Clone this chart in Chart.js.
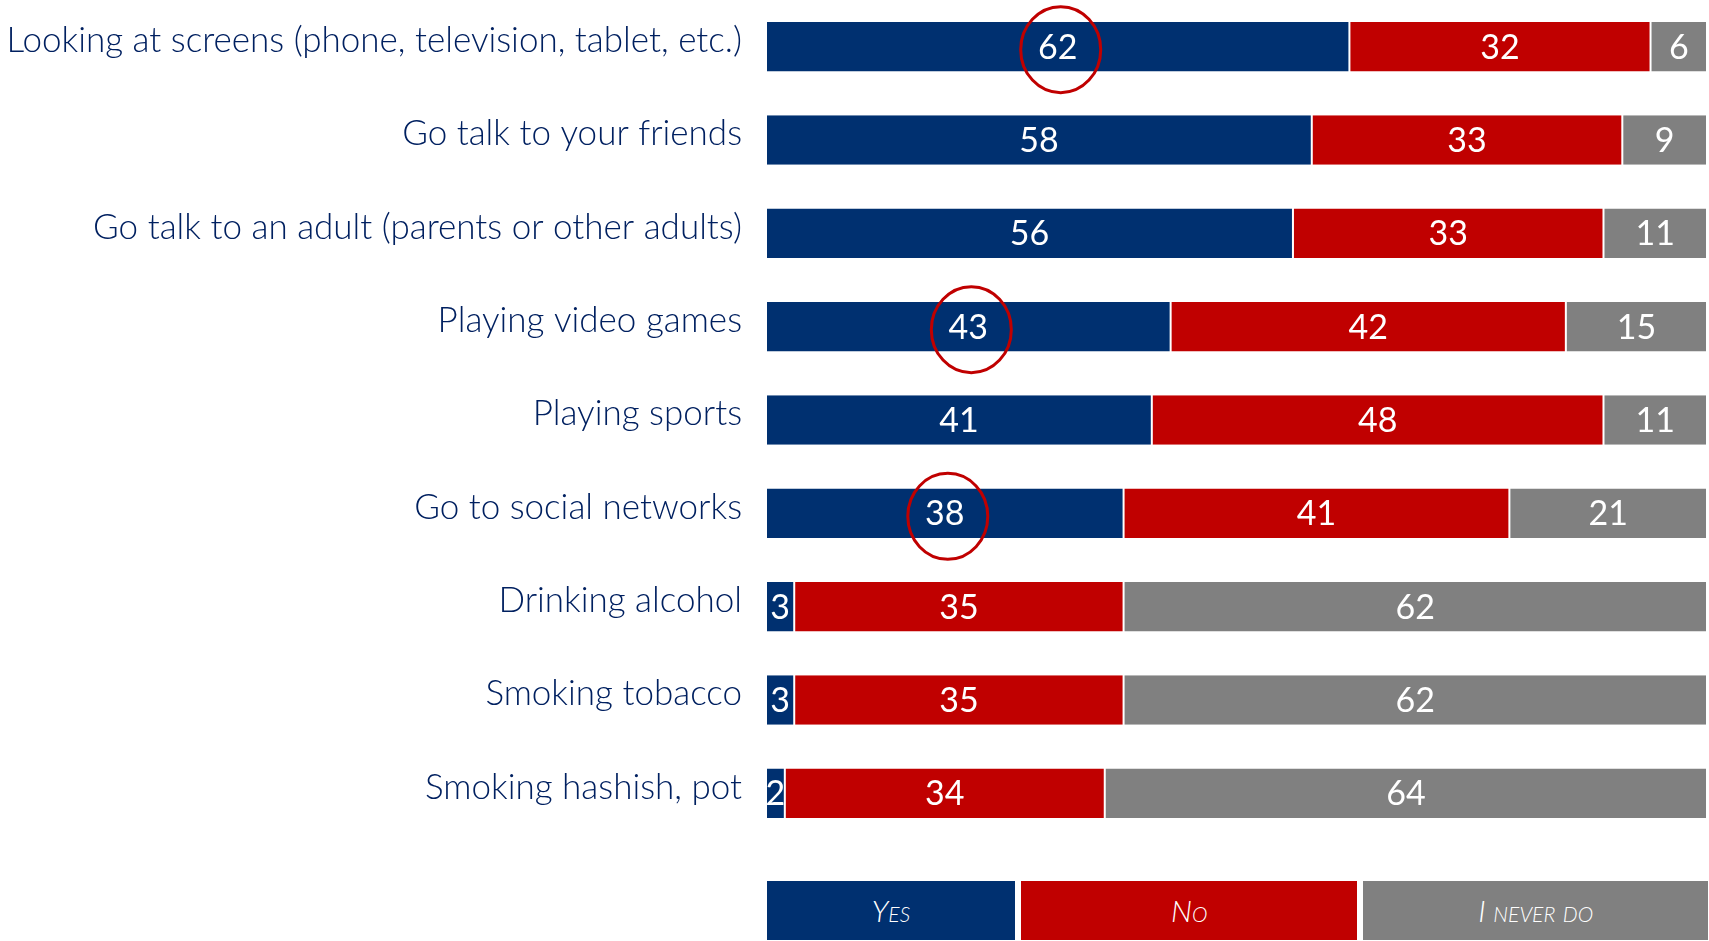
<!DOCTYPE html>
<html>
<head>
<meta charset="utf-8">
<script src="https://cdn.jsdelivr.net/npm/chart.js@4.4.1/dist/chart.umd.min.js"></script>
<style>
  html, body { margin: 0; padding: 0; background: #fff; }
  #wrap { position: relative; width: 1709px; height: 941px; }
  #legend { position: absolute; top: 881px; left: 767px; width: 941px; height: 59px; display: flex; }
  #legend div {
    height: 59px; line-height: 59px; text-align: center; color: #fff;
    font-family: Lato, sans-serif; font-weight: 300; font-style: italic;
    font-variant: small-caps; font-size: 30px;
  }
</style>
</head>
<body>
<div id="wrap">
  <canvas id="myChart" width="1709" height="941"></canvas>
  <div id="legend"></div>
</div>
<script>
const categories = [
  'Looking at screens (phone, television, tablet, etc.)',
  'Go talk to your friends',
  'Go talk to an adult (parents or other adults)',
  'Playing video games',
  'Playing sports',
  'Go to social networks',
  'Drinking alcohol',
  'Smoking tobacco',
  'Smoking hashish, pot'
];
const yes = [62, 58, 56, 43, 41, 38, 3, 3, 2];
const no = [32, 33, 33, 42, 48, 41, 35, 35, 34];
const never = [6, 9, 11, 15, 11, 21, 62, 62, 64];
const seriesNames = ['Yes', 'No', 'I never do'];
const colors = ['#003070', '#c00000', '#808080'];
const circled = [0, 3, 5];

// legend strip under the bars
const legendWidths = [249, 338, 346];
const legend = document.getElementById('legend');
seriesNames.forEach((name, i) => {
  const d = document.createElement('div');
  d.textContent = name;
  d.style.background = colors[i];
  d.style.width = legendWidths[i] + 'px';
  d.style.marginRight = i < 2 ? '6px' : '0';
  legend.appendChild(d);
});

// values in the middle of each segment + red circles
const barText = {
  id: 'barText',
  afterDatasetsDraw(chart) {
    const c = chart.ctx;
    c.save();
    c.font = '400 34px Lato';
    c.fillStyle = '#fff';
    c.textAlign = 'center';
    c.textBaseline = 'middle';
    chart.data.datasets.forEach((ds, i) => {
      chart.getDatasetMeta(i).data.forEach((bar, j) => {
        const x = (bar.x + bar.base) / 2;
        c.fillText(ds.data[j], x, bar.y + 1);
      });
    });
    const meta = chart.getDatasetMeta(0);
    c.strokeStyle = '#c00000';
    c.lineWidth = 3;
    circled.forEach(j => {
      const bar = meta.data[j];
      const x = (bar.x + bar.base) / 2 + 3;
      c.beginPath();
      c.ellipse(x, bar.y + 3, 40, 43, 0, 0, Math.PI * 2);
      c.stroke();
    });
    c.restore();
  }
};

const ctx = document.getElementById('myChart');

new Chart(ctx, {
  type: 'bar',
  data: {
    labels: categories,
    datasets: [yes, no, never].map((d, i) => ({
      label: seriesNames[i],
      data: d,
      backgroundColor: colors[i],
      borderColor: '#ffffff',
      borderWidth: { left: 1, right: 1, top: 0, bottom: 0 },
      borderSkipped: false,
      barPercentage: 0.53,
      categoryPercentage: 1
    }))
  },
  options: {
    indexAxis: 'y',
    responsive: false,
    animation: false,
    layout: { padding: { top: 0, right: 2, bottom: 101, left: 0 } },
    plugins: {
      legend: { display: false },
      tooltip: { enabled: false }
    },
    scales: {
      x: {
        stacked: true,
        min: 0,
        max: 100,
        display: false
      },
      y: {
        stacked: true,
        border: { display: false },
        grid: { display: false, drawTicks: false },
        afterFit(scale) {
          scale.width = 766;
          scale.paddingTop = 0;
          scale.paddingBottom = 0;
        },
        ticks: {
          color: '#002060',
          padding: 24,
          labelOffset: -6,
          font: { family: 'Lato', size: 35, weight: '300' }
        }
      }
    }
  },
  plugins: [barText]
});
</script>
</body>
</html>
